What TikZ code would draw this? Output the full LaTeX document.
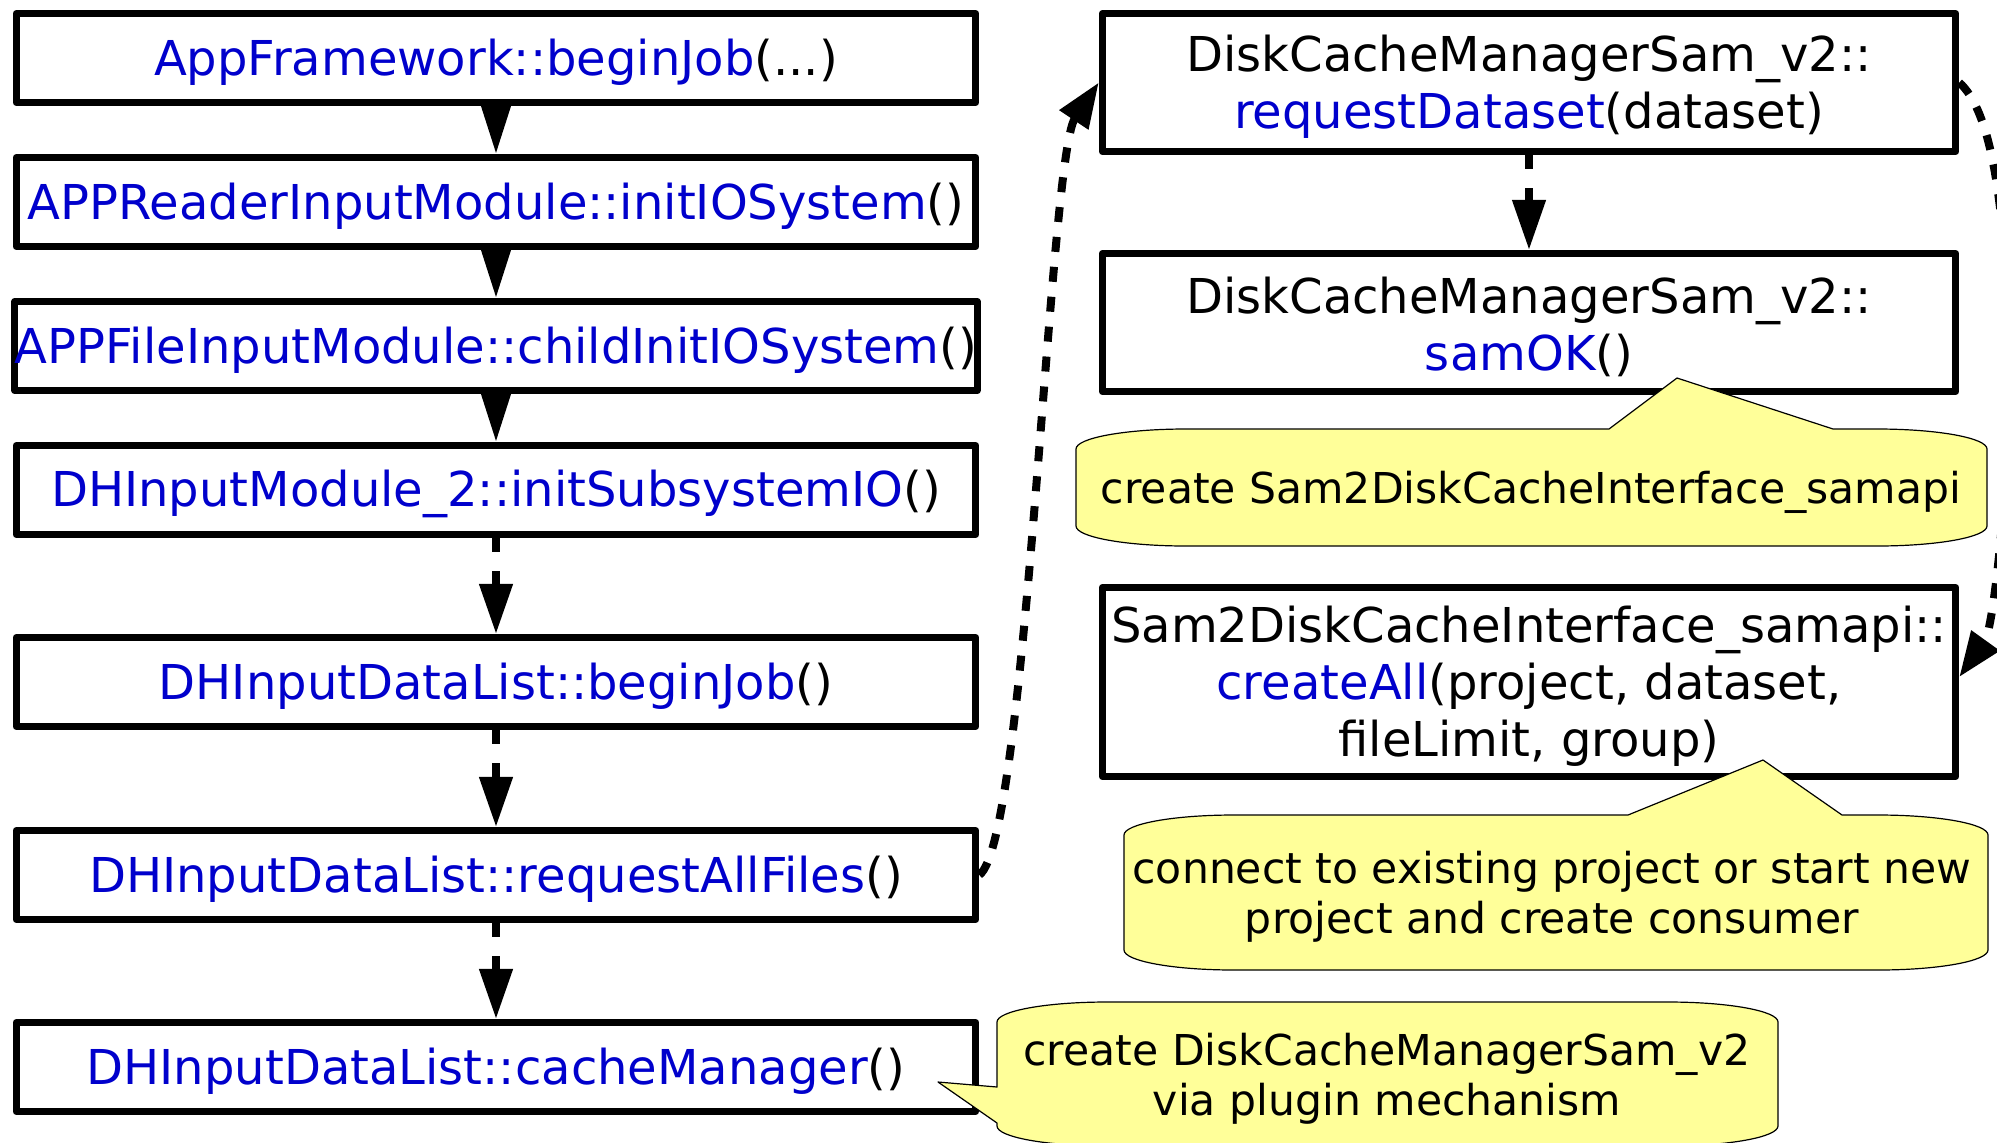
\documentclass[tikz,border=0pt]{standalone}
\usepackage{fontspec}
\setmainfont{DejaVu Sans}
\usetikzlibrary{arrows.meta}
\definecolor{blu}{RGB}{0,0,204}
\definecolor{noteyellow}{RGB}{255,255,153}
\newcommand\dnline[1]{\raisebox{-0.04cm}[\height][\depth]{#1}}
\begin{document}
\begin{tikzpicture}[x=0.01cm,y=-0.01cm,
  lbox/.style={draw=black, fill=white, line width=0.07cm, line join=round,
    minimum width=9.59cm, minimum height=0.89cm, inner sep=0pt, align=center,
    font=\fontsize{13.66}{16.2}\selectfont},
  rbox/.style={lbox, minimum width=8.53cm, minimum height=1.38cm},
  notebody/.style={draw=black, fill=noteyellow, line width=0.012cm, line join=round},
  notetext/.style={align=center, inner sep=0pt, font=\fontsize{12.1}{14.2}\selectfont},
  solidarrow/.style={line width=0.07cm, -{Triangle[length=0.48cm,width=0.28cm]}},
  dasharrow/.style={line width=0.075cm, dash pattern=on 0.14cm off 0.19cm,
    -{Triangle[length=0.5cm,width=0.32cm]}},
  curvearrow/.style={line width=0.08cm, dash pattern=on 0.15cm off 0.15cm,
    -{Triangle[length=0.45cm,width=0.33cm]}}
]
\fill[white] (0,0) rectangle (1997,1142);
\useasboundingbox (0,0) rectangle (1997,1142);

% left column
\node[lbox] (b1) at (496,58) {\dnline{\textcolor{blu}{AppFramework::beginJob}(...)}};
\node[lbox] (b2) at (496,202) {\dnline{\textcolor{blu}{APPReaderInputModule::initIOSystem}()}};
\node[lbox] (b3) at (496,346) {\dnline{\textcolor{blu}{APPFileInputModule::childInitIOSystem}()}};
\node[lbox] (b4) at (496,490) {\dnline{\textcolor{blu}{DHInputModule\_2::initSubsystemIO}()}};
\node[lbox] (b5) at (496,682) {\dnline{\textcolor{blu}{DHInputDataList::beginJob}()}};
\node[lbox] (b6) at (496,875) {\dnline{\textcolor{blu}{DHInputDataList::requestAllFiles}()}};
\node[lbox] (b7) at (496,1067) {\dnline{\textcolor{blu}{DHInputDataList::cacheManager}()}};

% right column
\node[rbox] (r1) at (1529,82.5) {\dnline{DiskCacheManagerSam\_v2::}\\\dnline{\textcolor{blu}{requestDataset}(dataset)}};
\node[rbox] (r2) at (1529,322.5) {\dnline{DiskCacheManagerSam\_v2::}\\\dnline{\textcolor{blu}{samOK}()}};
\node[rbox, minimum height=1.89cm] (r3) at (1529,682) {\dnline{Sam2DiskCacheInterface\_samapi::}\\\dnline{\textcolor{blu}{createAll}(project, dataset,}\\\dnline{fileLimit, group)}};

% arrows
\draw[solidarrow] (b1.south) -- (b2.north);
\draw[solidarrow] (b2.south) -- (b3.north);
\draw[solidarrow] (b3.south) -- (b4.north);
\draw[dasharrow] (b4.south) -- (b5.north);
\draw[dasharrow] (b5.south) -- (b6.north);
\draw[dasharrow] (b6.south) -- (b7.north);
\draw[dasharrow] (r1.south) -- (r2.north);

\draw[curvearrow] (b6.east) .. controls +(48,-35) and +(-50,75) .. (r1.west);
\coordinate (rbulge) at (2008,380);
\draw[curvearrow] (r1.east) .. controls (1990,110) and (2008,200) .. (rbulge)
  .. controls (2008,500) and (1993,630) .. ([yshift=0.05cm]r3.east);

% callouts
\draw[notebody] (1076,449) .. controls (1076,438) and (1125,429) .. (1186,429) -- (1609,429) -- (1677,378) -- (1833,429) -- (1877,429) .. controls (1938,429) and (1987,438) .. (1987,449) -- (1987,526) .. controls (1987,537) and (1938,546) .. (1877,546) -- (1186,546) .. controls (1125,546) and (1076,537) .. (1076,526) -- cycle;
\node[notetext] (n1) at (1531,488) {\dnline{create Sam2DiskCacheInterface\_samapi}};

\draw[notebody] (1124,835) .. controls (1124,824) and (1173,815) .. (1234,815) -- (1628,815) -- (1763,760) -- (1842,815) -- (1878,815) .. controls (1939,815) and (1988,824) .. (1988,835) -- (1988,950) .. controls (1988,961) and (1939,970) .. (1878,970) -- (1234,970) .. controls (1173,970) and (1124,961) .. (1124,950) -- cycle;
\node[notetext] (n2) at (1552,893) {\dnline{connect to existing project or start new}\\\dnline{project and create consumer}};

\draw[notebody] (997,1022) .. controls (997,1011) and (1046,1002) .. (1107,1002) -- (1668,1002) .. controls (1729,1002) and (1778,1011) .. (1778,1022) -- (1778,1126) .. controls (1778,1137) and (1729,1146) .. (1668,1146) -- (1107,1146) .. controls (1046,1146) and (997,1137) .. (997,1126) -- (997,1123) -- (938,1082) -- (997,1087) -- cycle;
\node[notetext] (n3) at (1387,1075) {\dnline{create DiskCacheManagerSam\_v2}\\\dnline{via plugin mechanism}};
\end{tikzpicture}
\end{document}
